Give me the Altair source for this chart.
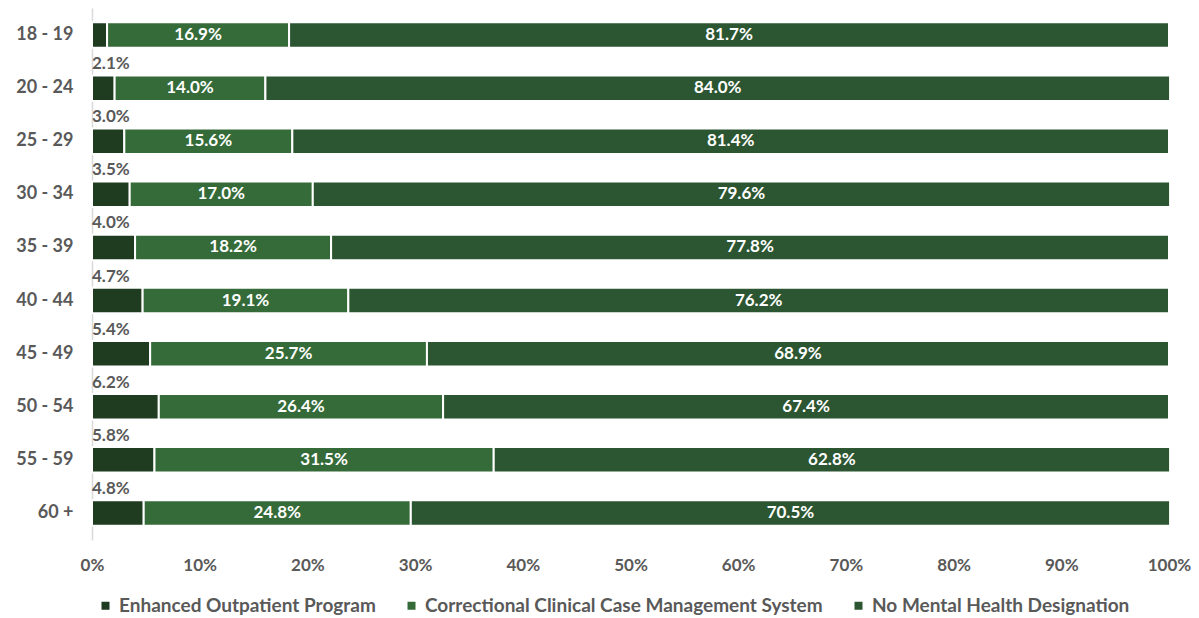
import altair as alt
import pandas as pd

ages = ["18 - 19", "20 - 24", "25 - 29", "30 - 34", "35 - 39", "40 - 44", "45 - 49", "50 - 54", "55 - 59", "60 +"]
series = ["Enhanced Outpatient Program", "Correctional Clinical Case Management System", "No Mental Health Designation"]
enhanced = [1.4, 2.1, 3.0, 3.5, 4.0, 4.7, 5.4, 6.2, 5.8, 4.8]
correctional = [16.9, 14.0, 15.6, 17.0, 18.2, 19.1, 25.7, 26.4, 31.5, 24.8]
no_mh = [81.7, 84.0, 81.4, 79.6, 77.8, 76.2, 68.9, 67.4, 62.8, 70.5]
colors = ["#1f3b20", "#346b38", "#2c5532"]

rows = []
for i, a in enumerate(ages):
    for j, (s, vals) in enumerate(zip(series, [enhanced, correctional, no_mh])):
        rows.append({"age": a, "series": s, "ord": j, "value": vals[i]})
df = pd.DataFrame(rows)

FONT = "Lato"
GRAY = "#595959"

base = alt.Chart(df).transform_stack(
    stack="value", groupby=["age"], sort=[alt.SortField("ord", order="ascending")], as_=["x0", "x1"]
).transform_calculate(
    mid="(datum.x0 + datum.x1) / 2",
    label="format(datum.value, '.1f') + '%'"
)

y_enc = alt.Y("age:N", sort=ages, title=None,
              scale=alt.Scale(paddingInner=0.52, paddingOuter=0.27),
              axis=alt.Axis(labelFont=FONT, labelFontSize=18, labelFontWeight="bold", labelColor=GRAY,
                            labelPadding=19, ticks=False, domainColor="#d9d9d9", domainWidth=1.5))

bars = base.mark_bar(stroke="white", strokeWidth=2).encode(
    x=alt.X("x0:Q", title=None, scale=alt.Scale(domain=[0, 100], nice=False),
            axis=alt.Axis(values=list(range(0, 101, 10)), labelExpr="datum.value + '%'",
                          labelFont=FONT, labelFontSize=17, labelFontWeight="bold", labelColor=GRAY,
                          labelFlush=False, domain=False, ticks=False, grid=False, labelPadding=17)),
    x2="x1:Q",
    y=y_enc,
    color=alt.Color("series:N", scale=alt.Scale(domain=series, range=colors), sort=series,
                    legend=alt.Legend(title=None, orient="none", direction="horizontal",
                                      legendX=4, legendY=588,
                                      symbolType="square", symbolSize=64, symbolStrokeWidth=0,
                                      labelFont=FONT, labelFontSize=19, labelFontWeight="bold",
                                      labelColor=GRAY, columnPadding=26, labelLimit=600)),
)

inner_text = base.transform_filter("datum.ord > 0").mark_text(
    color="white", font=FONT, fontSize=17, fontWeight="bold"
).encode(x="mid:Q", y=alt.Y("age:N", sort=ages), text="label:N")

outer_text = base.transform_filter("datum.ord == 0 && datum.value >= 2").mark_text(
    color=GRAY, font=FONT, fontSize=17, fontWeight="bold", align="left", dy=-24
).encode(x="x0:Q", y=alt.Y("age:N", sort=ages), text="label:N")

chart = alt.layer(bars, inner_text, outer_text).properties(
    width=1077, height=532,
    autosize=alt.AutoSizeParams(type="none"),
    padding={"left": 84, "top": 0, "right": 22, "bottom": 76},
).configure_view(stroke=None)

chart.save("out.html", embed_options={"renderer": "svg", "actions": False})
